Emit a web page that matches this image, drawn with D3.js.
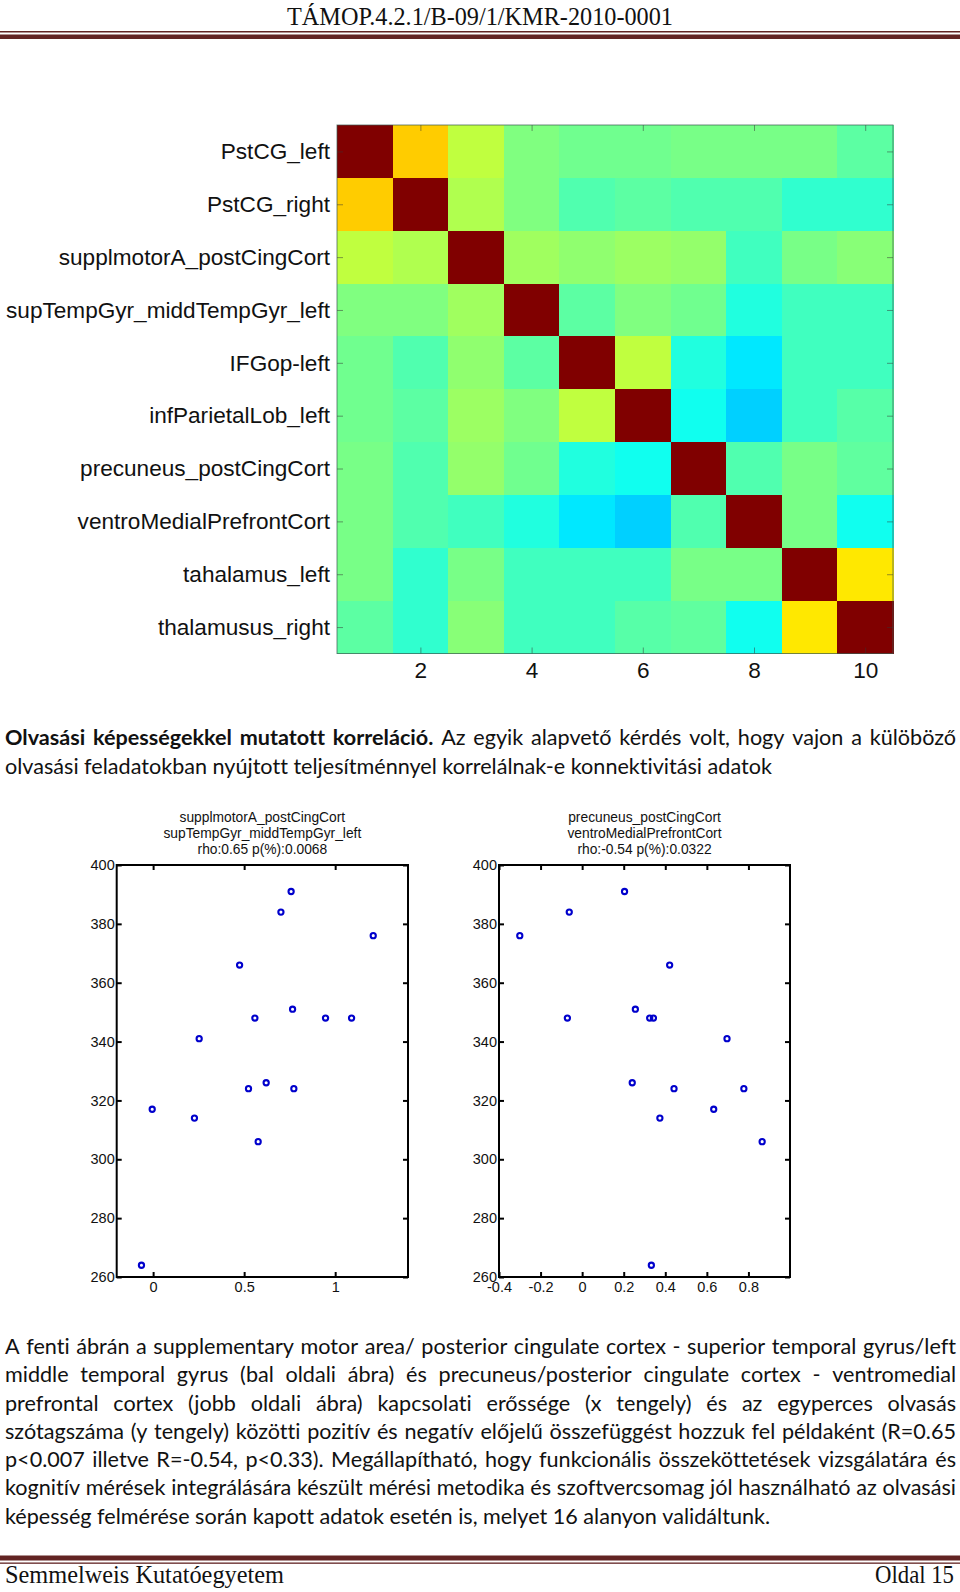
<!DOCTYPE html>
<html><head><meta charset="utf-8">
<script src="https://cdn.jsdelivr.net/npm/d3@7"></script>
<style>body{margin:0;background:#fff} svg{display:block} text{font-variant-ligatures:none;font-feature-settings:"liga" 0,"clig" 0}</style>
</head><body>
<svg id="c" width="960" height="1592"></svg>
<script>
// ---------------- data ----------------
const regions = ["PstCG_left","PstCG_right","supplmotorA_postCingCort","supTempGyr_middTempGyr_left","IFGop-left",
  "infParietalLob_left","precuneus_postCingCort","ventroMedialPrefrontCort","tahalamus_left","thalamusus_right"];
const regionIndex = [1,2,3,4,5,6,7,8,9,10];
const heatTicks = [2,4,6,8,10];
// normalised connectivity (colour-map position, diagonal = 1)
const connectivity = [
  [1.000,0.675,0.563,0.500,0.485,0.485,0.493,0.493,0.493,0.465],
  [0.675,1.000,0.548,0.500,0.453,0.465,0.453,0.453,0.422,0.422],
  [0.563,0.548,1.000,0.532,0.516,0.528,0.520,0.438,0.493,0.508],
  [0.500,0.500,0.532,1.000,0.465,0.500,0.485,0.406,0.438,0.438],
  [0.485,0.453,0.516,0.465,1.000,0.563,0.406,0.352,0.438,0.438],
  [0.485,0.465,0.528,0.500,0.563,1.000,0.391,0.329,0.438,0.460],
  [0.493,0.453,0.520,0.485,0.406,0.391,1.000,0.453,0.493,0.469],
  [0.493,0.453,0.438,0.406,0.352,0.329,0.453,1.000,0.493,0.391],
  [0.493,0.422,0.493,0.438,0.438,0.438,0.493,0.493,1.000,0.648],
  [0.465,0.422,0.508,0.438,0.438,0.460,0.469,0.391,0.648,1.000]
];
// left scatter: supplmotorA_postCingCort - supTempGyr_middTempGyr_left
const leftTitle = ["supplmotorA_postCingCort","supTempGyr_middTempGyr_left","rho:0.65 p(%):0.0068"];
const leftStrength = [0.758,0.702,1.209,0.475,0.766,0.559,0.947,1.090,0.253,0.524,0.621,0.773,-0.005,0.227,0.577,-0.064];
const leftScores   = [391,384,376,366,351,348,348,348,341,324,326,324,317,314,306,264];
const leftXTicks = [0,0.5,1];
// right scatter: precuneus_postCingCort - ventroMedialPrefrontCort
const rightTitle = ["precuneus_postCingCort","ventroMedialPrefrontCort","rho:-0.54 p(%):0.0322"];
const rightStrength = [0.204,-0.062,-0.300,0.421,0.256,-0.071,0.325,0.343,0.697,0.241,0.442,0.778,0.374,0.633,0.866,0.333];
const rightScores   = [391,384,376,366,351,348,348,348,341,326,324,324,314,317,306,264];
const rightXTicks = [-0.4,-0.2,0,0.2,0.4,0.6,0.8];
const yTicks = [260,280,300,320,340,360,380,400];

const headerText = "TÁMOP.4.2.1/B-09/1/KMR-2010-0001";
const footerLeft = "Semmelweis Kutatóegyetem";
const footerRight = "Oldal 15";
const para1 = [
  [["Olvasási képességekkel mutatott korreláció.",true],["Az egyik alapvető kérdés volt, hogy vajon a külöböző",false]],
  [["olvasási feladatokban nyújtott teljesítménnyel korrelálnak-e konnektivitási adatok",false]]
];
const para2 = [
  "A fenti ábrán a supplementary motor area/ posterior cingulate cortex - superior temporal gyrus/left",
  "middle temporal gyrus (bal oldali ábra) és precuneus/posterior cingulate cortex - ventromedial",
  "prefrontal cortex (jobb oldali ábra) kapcsolati erőssége (x tengely) és az egyperces olvasás",
  "szótagszáma (y tengely) közötti pozitív és negatív előjelű összefüggést hozzuk fel példaként (R=0.65",
  "p<0.007 illetve R=-0.54, p<0.33). Megállapítható, hogy funkcionális összeköttetések vizsgálatára és",
  "kognitív mérések integrálására készült mérési metodika és szoftvercsomag jól használható az olvasási",
  "képesség felmérése során kapott adatok esetén is, melyet 16 alanyon validáltunk."
];

// ---------------- drawing ----------------
const svg = d3.select("#c");
const maroon = "#622423";

// header
svg.append("text").attr("x",480).attr("y",25).attr("text-anchor","middle")
  .attr("font-family","Liberation Serif").attr("font-size",25).attr("fill","#111")
  .attr("textLength",386).attr("lengthAdjust","spacingAndGlyphs").text(headerText);
svg.append("rect").attr("x",0).attr("y",31).attr("width",960).attr("height",1.5).attr("fill",maroon);
svg.append("rect").attr("x",0).attr("y",34.5).attr("width",960).attr("height",4.5).attr("fill",maroon);

// footer
svg.append("rect").attr("x",0).attr("y",1555.5).attr("width",960).attr("height",5).attr("fill",maroon);
svg.append("rect").attr("x",0).attr("y",1562.5).attr("width",960).attr("height",1.3).attr("fill",maroon);
svg.append("text").attr("x",5).attr("y",1583).attr("font-family","Liberation Serif").attr("font-size",24.5)
  .attr("fill","#111").attr("textLength",279).attr("lengthAdjust","spacingAndGlyphs").text(footerLeft);
svg.append("text").attr("x",875).attr("y",1583).attr("font-family","Liberation Serif").attr("font-size",24.5)
  .attr("fill","#111").attr("textLength",79).attr("lengthAdjust","spacingAndGlyphs").text(footerRight);

// ---- heatmap ----
const jet = d3.scaleLinear().domain([0,0.125,0.375,0.625,0.875,1])
  .range(["#00008f","#0000ff","#00ffff","#ffff00","#ff0000","#800000"]).clamp(true);
const hx = d3.scaleBand().domain(regionIndex).range([337,893]);
const hy = d3.scaleBand().domain(regions).range([125,653.5]);
const hm = svg.append("g");
connectivity.forEach((row,i)=>{
  row.forEach((v,j)=>{
    hm.append("rect").attr("x",hx(regionIndex[j])).attr("y",hy(regions[i]))
      .attr("width",hx.bandwidth()+0.5).attr("height",hy.bandwidth()+0.5)
      .attr("fill",jet(v)).attr("shape-rendering","crispEdges");
  });
});
const hxl = d3.scalePoint().domain(regionIndex).range([hx(1)+hx.bandwidth()/2, hx(10)+hx.bandwidth()/2]);
const hyl = d3.scalePoint().domain(regions).range([hy(regions[0])+hy.bandwidth()/2, hy(regions[9])+hy.bandwidth()/2]);
const axStyle = g => { g.select(".domain").remove(); g.selectAll("line").attr("stroke","#333").attr("stroke-opacity",0.5); };
const HFS = 22.6;
svg.append("g").attr("transform","translate(0,653.5)")
  .call(d3.axisBottom(hxl).tickValues(heatTicks).tickSizeInner(-6).tickSizeOuter(0).tickPadding(8.5))
  .call(axStyle).call(g=>g.selectAll("text").attr("font-family","Liberation Sans").attr("font-size",HFS).attr("fill","#111"));
svg.append("g").attr("transform","translate(0,125)")
  .call(d3.axisTop(hxl).tickValues(heatTicks).tickSizeInner(-6).tickSizeOuter(0).tickFormat(""))
  .call(axStyle);
svg.append("g").attr("transform","translate(337,0)")
  .call(d3.axisLeft(hyl).tickSizeInner(-6).tickSizeOuter(0).tickPadding(7))
  .call(axStyle).call(g=>g.selectAll("text").attr("font-family","Liberation Sans").attr("font-size",HFS).attr("fill","#111"));
svg.append("g").attr("transform","translate(893,0)")
  .call(d3.axisRight(hyl).tickSizeInner(-6).tickSizeOuter(0).tickFormat(""))
  .call(axStyle);
svg.append("rect").attr("x",337).attr("y",125).attr("width",556).attr("height",528.5)
  .attr("fill","none").attr("stroke","#3a5a50").attr("stroke-opacity",0.7).attr("stroke-width",1);

// ---- scatter plots ----
function scatter(x0,x1,xDomain,xTicks,titles,xs,ys){
  const top=865,bottom=1277;
  const x = d3.scaleLinear().domain(xDomain).range([x0,x1]);
  const y = d3.scaleLinear().domain([260,400]).range([bottom,top]);
  const g = svg.append("g");
  const fmt = d => String(+(+d).toFixed(1));
  const tickStyle = a => { a.select(".domain").remove(); a.selectAll("line").attr("stroke","#000").attr("stroke-width",2);
    a.selectAll("text").attr("font-family","Liberation Sans").attr("font-size",14.5).attr("fill","#111"); };
  g.append("g").attr("transform",`translate(0,${bottom})`)
    .call(d3.axisBottom(x).tickValues(xTicks).tickFormat(fmt).tickSizeInner(-5).tickSizeOuter(0).tickPadding(5)).call(tickStyle);
  g.append("g").attr("transform",`translate(0,${top})`)
    .call(d3.axisTop(x).tickValues(xTicks).tickFormat("").tickSizeInner(-5).tickSizeOuter(0)).call(tickStyle);
  g.append("g").attr("transform",`translate(${x0},0)`)
    .call(d3.axisLeft(y).tickValues(yTicks).tickSizeInner(-5).tickSizeOuter(0).tickPadding(2)).call(tickStyle);
  g.append("g").attr("transform",`translate(${x1},0)`)
    .call(d3.axisRight(y).tickValues(yTicks).tickFormat("").tickSizeInner(-5).tickSizeOuter(0)).call(tickStyle);
  g.append("rect").attr("x",x0).attr("y",top).attr("width",x1-x0).attr("height",bottom-top)
    .attr("fill","none").attr("stroke","#000").attr("stroke-width",2);
  titles.forEach((t,i)=>{
    g.append("text").attr("x",(x0+x1)/2).attr("y",822+i*16).attr("text-anchor","middle")
      .attr("font-family","Liberation Sans").attr("font-size",13.8).attr("fill","#111").text(t);
  });
  g.selectAll("circle.pt").data(xs.map((v,i)=>[v,ys[i]])).join("circle").attr("class","pt")
    .attr("cx",d=>x(d[0])).attr("cy",d=>y(d[1])).attr("r",2.6)
    .attr("fill","none").attr("stroke","#0000cc").attr("stroke-width",2.1);
}
scatter(116.7,408,[-0.2,1.4],leftXTicks,leftTitle,leftStrength,leftScores);
scatter(499,790,[-0.4,1.0],rightXTicks,rightTitle,rightStrength,rightScores);

// ---- body text ----
const FONT="Lato", FS=20.5;
const meas = svg.append("text").attr("font-family",FONT).attr("font-size",FS).attr("x",-1000).attr("y",-1000);
function wlen(t,b){ meas.attr("font-weight",b?"bold":"normal").text(t); return meas.node().getComputedTextLength(); }
const spaceW = wlen("x x",false)-wlen("xx",false);
function toWords(line){
  const segs = typeof line==="string" ? [[line,false]] : line;
  const out=[]; segs.forEach(([t,b])=>t.split(" ").filter(s=>s.length).forEach(w=>out.push({t:w,b,w:wlen(w,b)})));
  return out;
}
function natural(ws){ return d3.sum(ws,d=>d.w)+spaceW*(ws.length-1); }
const lastA = toWords(para1[1]), lastB = toWords(para2[6]);
const s = ((773-5)/natural(lastA) + (769-5)/natural(lastB))/2;
function drawPara(lines,y0,lh){
  lines.forEach((ln,i)=>{
    const ws = toWords(ln);
    const justify = i<lines.length-1;
    let sc = s, gap = spaceW*s;
    if(justify){
      const target=956-5;
      const sumw = d3.sum(ws,d=>d.w);
      gap = (target - sumw*sc)/(ws.length-1);
      const minGap = spaceW*s*0.85;
      if(gap<minGap){ gap=minGap; sc=(target-gap*(ws.length-1))/sumw; }
    }
    let x=5;
    ws.forEach(w=>{
      svg.append("text").attr("x",x).attr("y",y0+i*lh).attr("font-family",FONT).attr("font-size",FS)
        .attr("font-weight",w.b?"bold":"normal").attr("fill","#111")
        .attr("textLength",w.w*sc).attr("lengthAdjust","spacingAndGlyphs").text(w.t);
      x += w.w*sc + gap;
    });
  });
}
drawPara(para1,745,29);
drawPara(para2,1354,28.25);
meas.remove();
</script>
</body></html>
